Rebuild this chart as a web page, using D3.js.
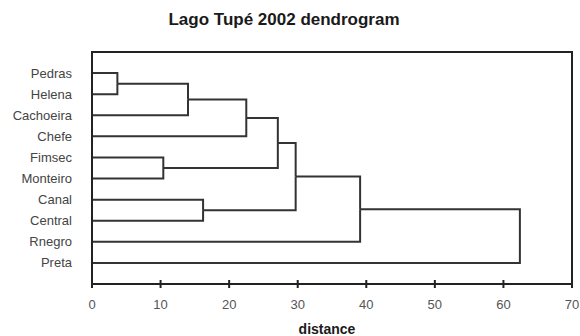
<!DOCTYPE html>
<html>
<head>
<meta charset="utf-8">
<script src="https://cdn.jsdelivr.net/npm/d3@7"></script>
<style>
  body { margin: 0; background: #fff; }
  text { font-family: "Liberation Sans", Arial, sans-serif; }
</style>
</head>
<body>
<svg id="chart" width="580" height="336"></svg>
<script>
// leaf order, top to bottom
var leaves = ["Pedras", "Helena", "Cachoeira", "Chefe", "Fimsec", "Monteiro", "Canal", "Central", "Rnegro", "Preta"];
// merges: [left child, right child, distance]
var merges = [
  ["Pedras", "Helena", 3.7],
  ["m0", "Cachoeira", 14.0],
  ["m1", "Chefe", 22.5],
  ["Fimsec", "Monteiro", 10.4],
  ["m2", "m3", 27.1],
  ["Canal", "Central", 16.2],
  ["m4", "m5", 29.7],
  ["m6", "Rnegro", 39.1],
  ["m7", "Preta", 62.4]
];
var xTicks = [0, 10, 20, 30, 40, 50, 60, 70];

var svg = d3.select("#chart");
var plotL = 92, plotR = 572, plotT = 52, plotB = 284;

var x = d3.scaleLinear().domain([0, 70]).range([plotL, plotR]);
var y = d3.scalePoint().domain(leaves).range([plotT, plotB]).padding(1);

// build tree
var nodes = {};
leaves.forEach(function (d) { nodes[d] = { name: d, height: 0 }; });
merges.forEach(function (m, i) {
  nodes["m" + i] = { name: "m" + i, height: m[2], children: [nodes[m[0]], nodes[m[1]]] };
});
var root = d3.hierarchy(nodes["m" + (merges.length - 1)]);
root.eachAfter(function (n) {
  n.px = x(n.data.height);
  n.py = n.children ? d3.mean(n.children, function (c) { return c.py; }) : y(n.data.name);
});

svg.append("text")
  .attr("x", 284).attr("y", 25)
  .attr("text-anchor", "middle")
  .style("font-size", "17px").style("font-weight", "bold")
  .attr("fill", "#1a1a1a")
  .text("Lago Tupé 2002 dendrogram");

// links
var links = svg.append("g")
  .attr("fill", "none").attr("stroke", "#333").attr("stroke-width", 2);
root.descendants().forEach(function (n) {
  if (!n.children) return;
  n.children.forEach(function (c) {
    links.append("path")
      .attr("d", "M" + (c.children ? c.px : plotL) + "," + c.py + "H" + n.px + "V" + n.py);
  });
});

// frame
svg.append("rect")
  .attr("x", plotL).attr("y", plotT)
  .attr("width", plotR - plotL).attr("height", plotB - plotT)
  .attr("fill", "none").attr("stroke", "#222").attr("stroke-width", 2);

// x axis
var ax = svg.append("g").attr("transform", "translate(0," + plotB + ")");
ax.selectAll("line").data(xTicks).enter().append("line")
  .attr("x1", function (d) { return x(d); }).attr("x2", function (d) { return x(d); })
  .attr("y1", -4).attr("y2", 4)
  .attr("stroke", "#222").attr("stroke-width", 2);
ax.selectAll("text").data(xTicks).enter().append("text")
  .attr("x", function (d) { return x(d); }).attr("y", 25)
  .attr("text-anchor", "middle")
  .style("font-size", "13px").attr("fill", "#555")
  .text(function (d) { return d; });

svg.append("text")
  .attr("x", 327).attr("y", 334)
  .attr("text-anchor", "middle")
  .style("font-size", "14px").style("font-weight", "bold")
  .attr("fill", "#1a1a1a")
  .text("distance");

// leaf labels
svg.append("g").selectAll("text").data(leaves).enter().append("text")
  .attr("x", 72).attr("y", function (d) { return y(d); })
  .attr("dy", "0.35em")
  .attr("text-anchor", "end")
  .style("font-size", "13px").attr("fill", "#444")
  .text(function (d) { return d; });
</script>
</body>
</html>
